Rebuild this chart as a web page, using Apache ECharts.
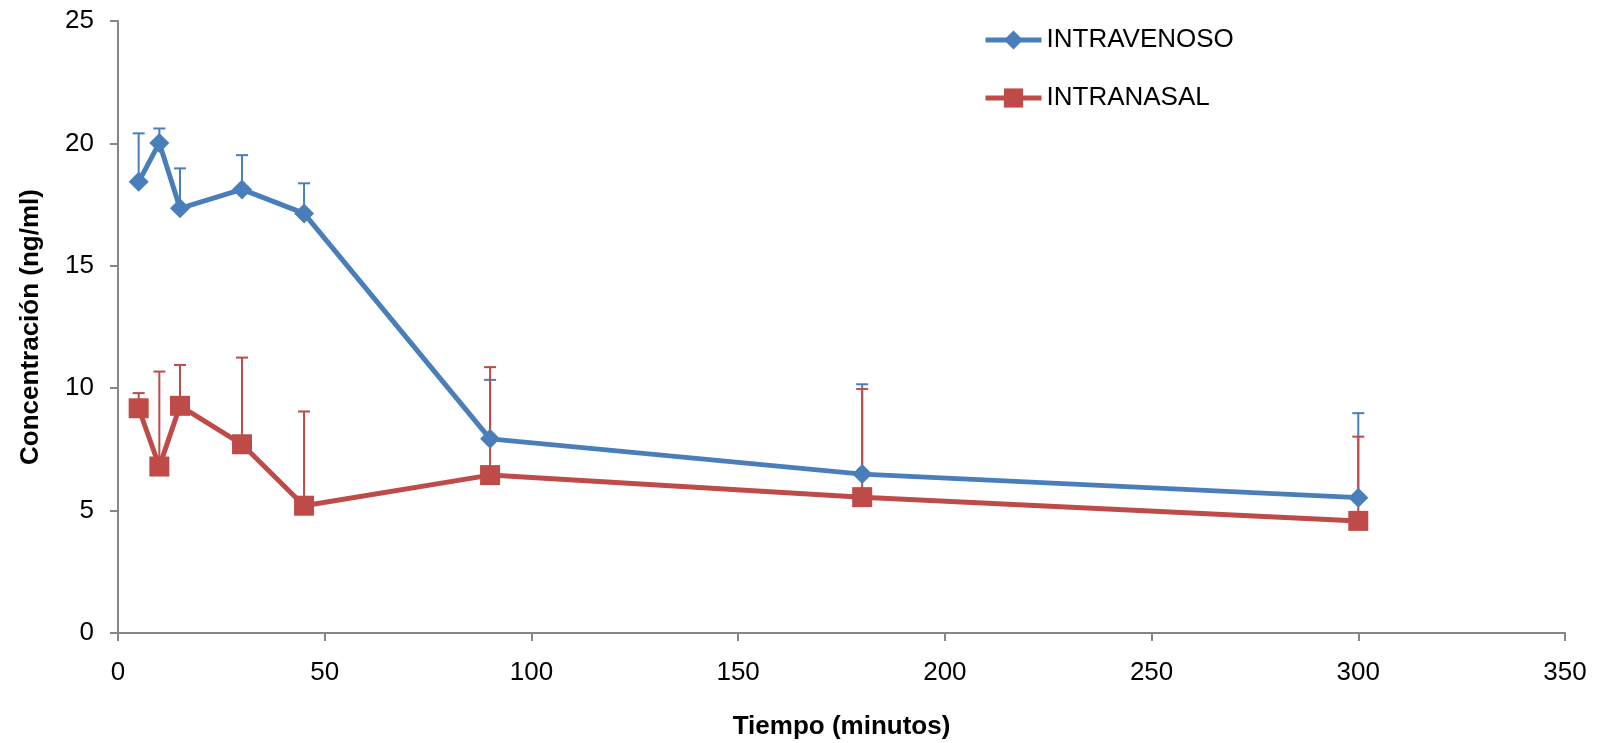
<!DOCTYPE html>
<html>
<head>
<meta charset="utf-8">
<script src="https://cdn.jsdelivr.net/npm/echarts@6/dist/echarts.min.js"></script>
<style>
  html, body { margin: 0; padding: 0; background: #fff; }
  #chart { width: 1603px; height: 743px; }
</style>
</head>
<body>
<div id="chart"></div>
<script>
// tiempos de muestreo (minutos)
const times = [5, 10, 15, 30, 45, 90, 180, 300]
// concentración media (ng/ml)
const ivMean = [18.43, 20.02, 17.35, 18.12, 17.14, 7.93, 6.49, 5.53]
const inMean = [9.18, 6.80, 9.28, 7.71, 5.20, 6.45, 5.55, 4.58]
// desviación (solo barra superior)
const ivSd = [1.98, 0.59, 1.63, 1.40, 1.23, 2.41, 3.67, 3.45]
const inSd = [0.62, 3.88, 1.67, 3.54, 3.85, 4.41, 4.42, 3.44]

const BLUE = '#4A7EBB'
const RED = '#BE4B48'
const FONT = '"Liberation Sans", Arial, sans-serif'

function pairs (xs, ys) {
  return xs.map((x, i) => [x, ys[i]])
}

// barras de error: línea vertical desde la media hasta media + sd, con tope
function errorSeries (name, mean, sd, color, z) {
  return {
    name: name + '_err',
    type: 'custom',
    z: z,
    silent: true,
    data: times.map((t, i) => [t, mean[i], mean[i] + sd[i]]),
    renderItem (params, api) {
      const p0 = api.coord([api.value(0), api.value(1)])
      const p1 = api.coord([api.value(0), api.value(2)])
      const half = 6
      const style = { stroke: color, lineWidth: 2 }
      return {
        type: 'group',
        children: [
          { type: 'line', shape: { x1: p0[0], y1: p0[1], x2: p1[0], y2: p1[1] }, style },
          { type: 'line', shape: { x1: p1[0] - half, y1: p1[1], x2: p1[0] + half, y2: p1[1] }, style }
        ]
      }
    }
  }
}

const chart = echarts.init(document.getElementById('chart'))
chart.setOption({
  animation: false,
  textStyle: { fontFamily: FONT, color: '#000' },
  grid: { left: 118, right: 38, top: 21, bottom: 110, outerBoundsMode: 'none' },
  legend: {
    orient: 'vertical',
    left: 978,
    top: 22,
    itemWidth: 56,
    itemHeight: 24,
    itemGap: 32,
    lineStyle: { width: 5 },
    textStyle: { fontSize: 26, color: '#000', fontFamily: FONT },
    data: ['INTRAVENOSO', 'INTRANASAL']
  },
  xAxis: {
    type: 'value',
    min: 0,
    max: 350,
    interval: 50,
    name: 'Tiempo (minutos)',
    nameLocation: 'middle',
    nameGap: 81,
    nameTextStyle: { fontSize: 26, fontWeight: 'bold', color: '#000' },
    axisLine: { lineStyle: { color: '#868686', width: 2 } },
    axisTick: { show: true, length: 8, lineStyle: { color: '#868686', width: 2 } },
    axisLabel: { fontSize: 26, color: '#000', margin: 27 },
    splitLine: { show: false }
  },
  yAxis: {
    type: 'value',
    min: 0,
    max: 25,
    interval: 5,
    name: 'Concentración (ng/ml)',
    nameLocation: 'middle',
    nameGap: 74,
    nameTextStyle: { fontSize: 26, fontWeight: 'bold', color: '#000' },
    axisLine: { show: true, lineStyle: { color: '#868686', width: 2 } },
    axisTick: { show: true, length: 8, lineStyle: { color: '#868686', width: 2 } },
    axisLabel: { fontSize: 26, color: '#000', margin: 24 },
    splitLine: { show: false }
  },
  series: [
    errorSeries('INTRAVENOSO', ivMean, ivSd, BLUE, 1),
    errorSeries('INTRANASAL', inMean, inSd, RED, 2),
    {
      name: 'INTRANASAL',
      type: 'line',
      z: 3,
      data: pairs(times, inMean),
      symbol: 'rect',
      symbolSize: 20,
      itemStyle: { color: RED },
      lineStyle: { color: RED, width: 5 }
    },
    {
      name: 'INTRAVENOSO',
      type: 'line',
      z: 4,
      data: pairs(times, ivMean),
      symbol: 'diamond',
      symbolSize: 20,
      itemStyle: { color: BLUE },
      lineStyle: { color: BLUE, width: 5 }
    }
  ]
})
</script>
</body>
</html>
